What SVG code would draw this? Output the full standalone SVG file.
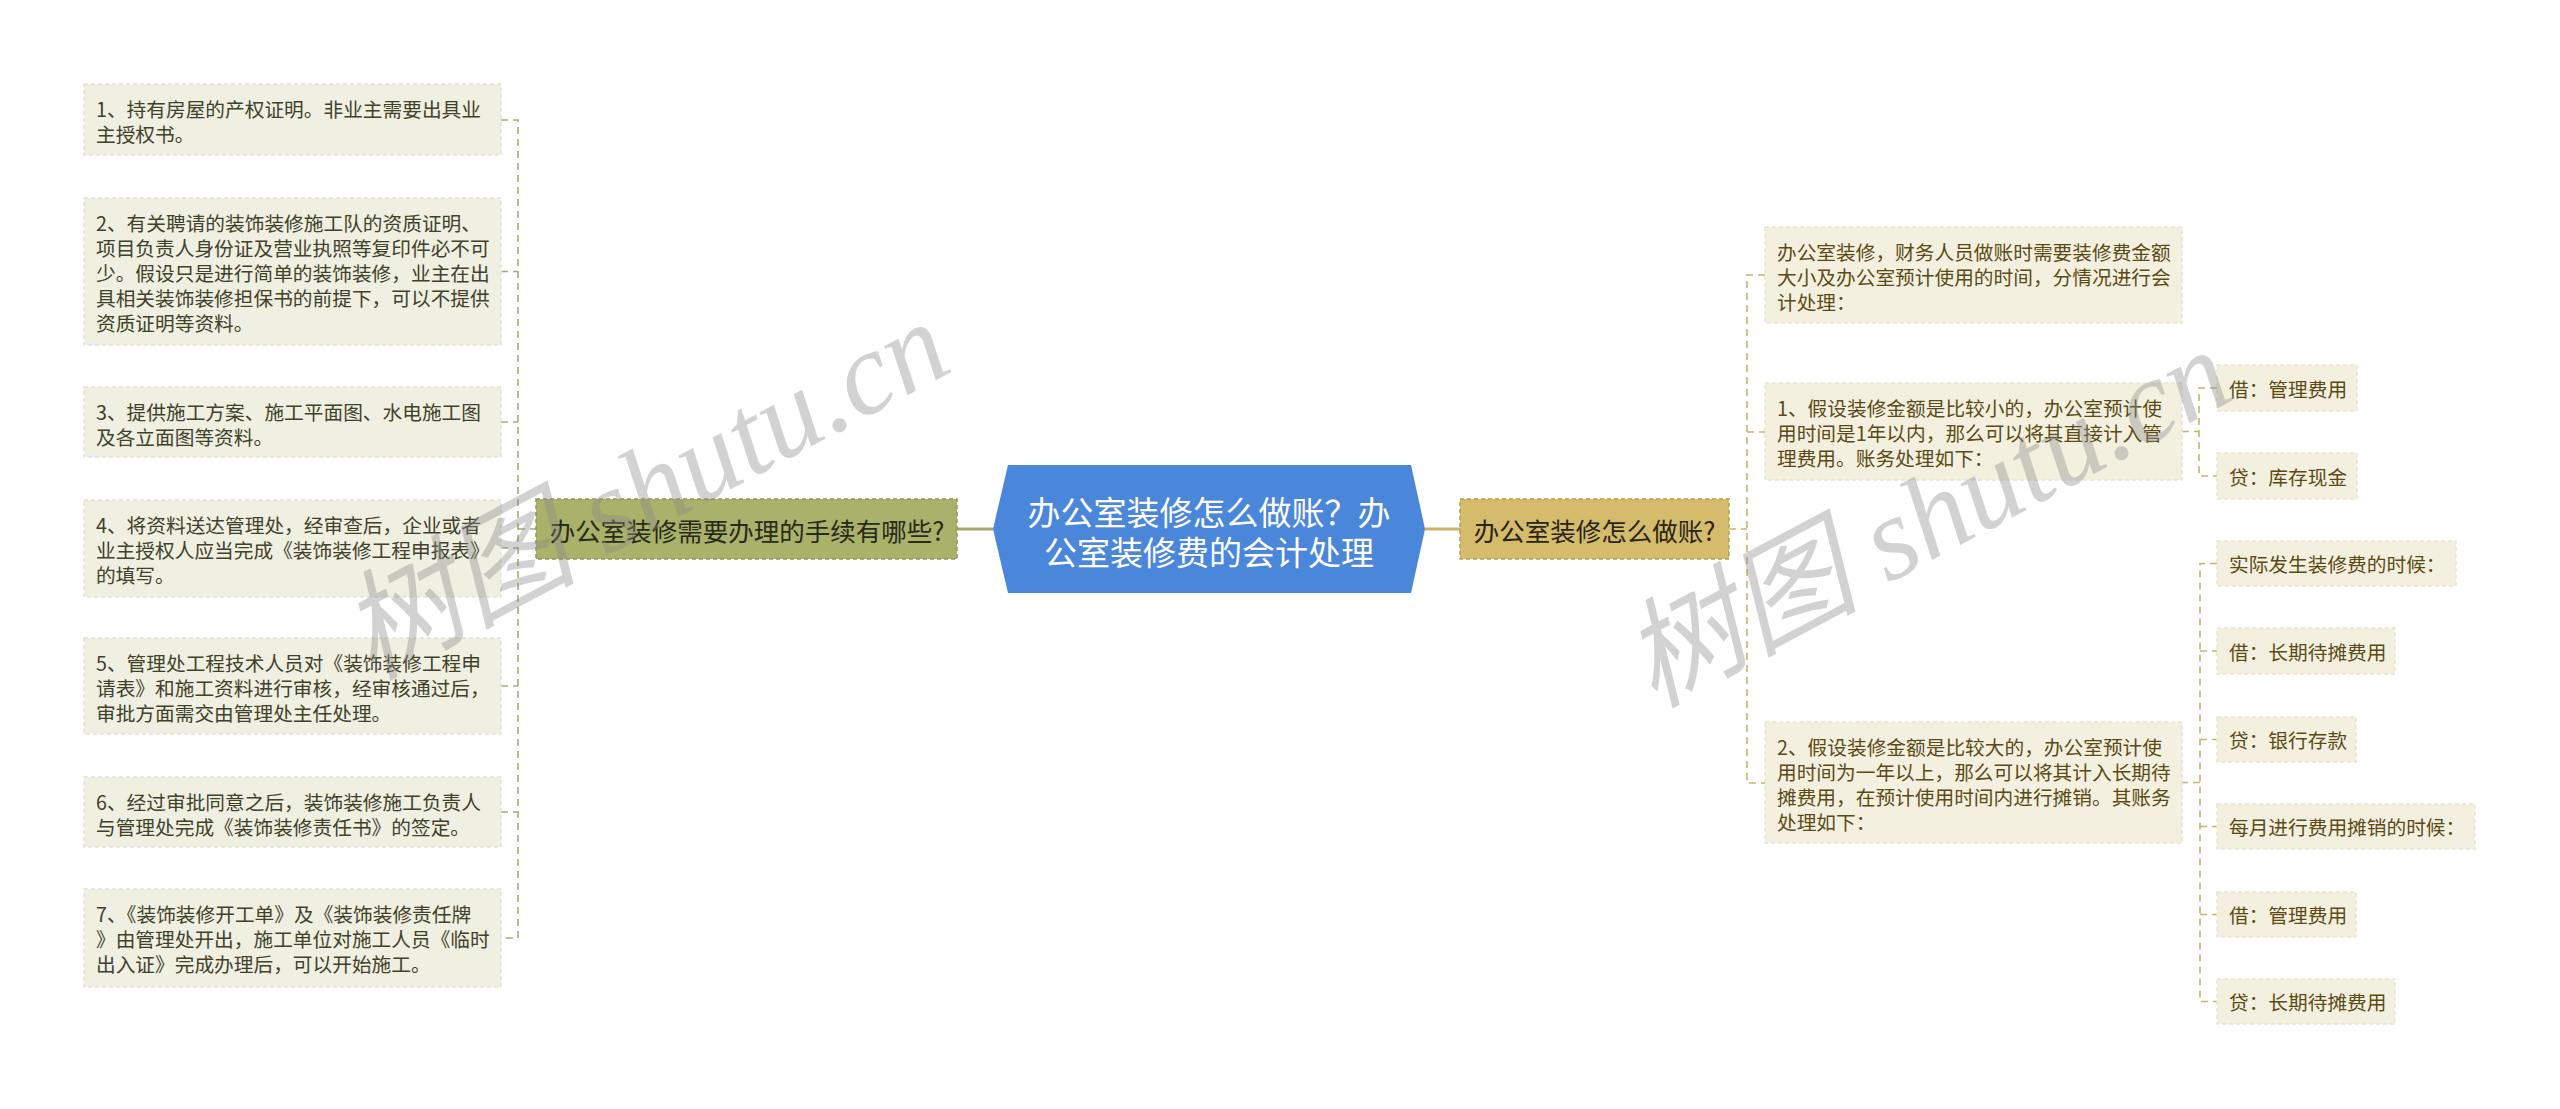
<svg xmlns="http://www.w3.org/2000/svg" width="2560" height="1109" viewBox="0 0 2560 1109">
<style>
text{font-family:"Noto Sans CJK SC","Noto Sans",sans-serif;dominant-baseline:central}
.lb{fill:#efefe2;stroke:#e4e4d2;stroke-width:1.5;stroke-dasharray:4 3}
.rb{fill:#f4f0e0;stroke:#ebe5cc;stroke-width:1.5;stroke-dasharray:4 3}
.lt{fill:#414129;font-size:19.7px}
.rt{fill:#5a4b16;font-size:19.7px}
.ld{fill:none;stroke:#a6ab74;stroke-width:1.6;stroke-dasharray:7 5}
.rd{fill:none;stroke:#c9b46c;stroke-width:1.6;stroke-dasharray:7 5}
.wm{font-family:"Liberation Serif","Noto Sans CJK SC",serif;font-style:italic;font-size:118px;fill:#8a8a8a;fill-opacity:0.38}
</style>
<rect width="2560" height="1109" fill="#ffffff"/>
<g id="connectors">
<line x1="957" y1="529" x2="993" y2="529" stroke="#a3a866" stroke-width="3"/>
<line x1="1425" y1="529" x2="1460" y2="529" stroke="#c9b36a" stroke-width="3"/>
<path class="ld" d="M501 120H518V938H501M501 271.5H518M501 422H518M501 548H518M501 686H518M501 812H518M518 529H536"/>
<path class="rd" d="M1765 275H1747V783H1765M1747 432H1765M1729 529H1747"/>
<path class="rd" d="M2217 388H2199V476H2217M2182 431.5H2199"/>
<path class="rd" d="M2217 563.5H2200V1001.5H2217M2200 651H2217M2200 739.5H2217M2200 826.5H2217M2200 914.5H2217M2181 782.5H2200"/>
</g>
<g id="center">
<polygon points="993,529 1008,465 1411,465 1425,529 1411,593 1008,593" fill="#4a86d9"/>
<text x="1209" y="511" font-size="33" fill="#ffffff" text-anchor="middle">办公室装修怎么做账？办</text>
<text x="1209" y="551" font-size="33" fill="#ffffff" text-anchor="middle">公室装修费的会计处理</text>
</g>
<g id="left-branch">
<rect x="536" y="499" width="421" height="60" fill="#a9b16b" stroke="#8e9655" stroke-width="1.5" stroke-dasharray="4 3"/>
<text x="747" y="529" font-size="25.5" fill="#2a2a18" text-anchor="middle">办公室装修需要办理的手续有哪些?</text>
</g>
<g id="right-branch">
<rect x="1460" y="499" width="269" height="60" fill="#d5bc6c" stroke="#b89f50" stroke-width="1.5" stroke-dasharray="4 3"/>
<text x="1594.5" y="529" font-size="25.5" fill="#2a2412" text-anchor="middle">办公室装修怎么做账?</text>
</g>
<g id="l1"><rect class="lb" x="84" y="84" width="417" height="71"/>
<text class="lt" x="96" y="108">1、持有房屋的产权证明。非业主需要出具业</text>
<text class="lt" x="96" y="133">主授权书。</text></g>
<g id="l2"><rect class="lb" x="84" y="198" width="417" height="147"/>
<text class="lt" x="96" y="222">2、有关聘请的装饰装修施工队的资质证明、</text>
<text class="lt" x="96" y="247">项目负责人身份证及营业执照等复印件必不可</text>
<text class="lt" x="96" y="272">少。假设只是进行简单的装饰装修，业主在出</text>
<text class="lt" x="96" y="297">具相关装饰装修担保书的前提下，可以不提供</text>
<text class="lt" x="96" y="322">资质证明等资料。</text></g>
<g id="l3"><rect class="lb" x="84" y="387" width="417" height="70"/>
<text class="lt" x="96" y="411">3、提供施工方案、施工平面图、水电施工图</text>
<text class="lt" x="96" y="436">及各立面图等资料。</text></g>
<g id="l4"><rect class="lb" x="84" y="500" width="417" height="97"/>
<text class="lt" x="96" y="524">4、将资料送达管理处，经审查后，企业或者</text>
<text class="lt" x="96" y="549">业主授权人应当完成《装饰装修工程申报表》</text>
<text class="lt" x="96" y="574">的填写。</text></g>
<g id="l5"><rect class="lb" x="84" y="638" width="417" height="96"/>
<text class="lt" x="96" y="662">5、管理处工程技术人员对《装饰装修工程申</text>
<text class="lt" x="96" y="687">请表》和施工资料进行审核，经审核通过后，</text>
<text class="lt" x="96" y="712">审批方面需交由管理处主任处理。</text></g>
<g id="l6"><rect class="lb" x="84" y="777" width="417" height="70"/>
<text class="lt" x="96" y="801">6、经过审批同意之后，装饰装修施工负责人</text>
<text class="lt" x="96" y="826">与管理处完成《装饰装修责任书》的签定。</text></g>
<g id="l7"><rect class="lb" x="84" y="889" width="417" height="98"/>
<text class="lt" x="96" y="913">7、《装饰装修开工单》及《装饰装修责任牌</text>
<text class="lt" x="96" y="938">》由管理处开出，施工单位对施工人员《临时</text>
<text class="lt" x="96" y="963">出入证》完成办理后，可以开始施工。</text></g>
<g id="ra"><rect class="rb" x="1765" y="227" width="417" height="96"/>
<text class="rt" x="1777" y="251">办公室装修，财务人员做账时需要装修费金额</text>
<text class="rt" x="1777" y="276">大小及办公室预计使用的时间，分情况进行会</text>
<text class="rt" x="1777" y="301">计处理：</text></g>
<g id="rb1"><rect class="rb" x="1765" y="383" width="417" height="97"/>
<text class="rt" x="1777" y="407">1、假设装修金额是比较小的，办公室预计使</text>
<text class="rt" x="1777" y="432">用时间是1年以内，那么可以将其直接计入管</text>
<text class="rt" x="1777" y="457">理费用。账务处理如下：</text></g>
<g id="rc"><rect class="rb" x="1765" y="722" width="417" height="121"/>
<text class="rt" x="1777" y="746">2、假设装修金额是比较大的，办公室预计使</text>
<text class="rt" x="1777" y="771">用时间为一年以上，那么可以将其计入长期待</text>
<text class="rt" x="1777" y="796">摊费用，在预计使用时间内进行摊销。其账务</text>
<text class="rt" x="1777" y="821">处理如下：</text></g>
<g id="b1"><rect class="rb" x="2217" y="365" width="140" height="46"/>
<text class="rt" x="2229" y="388">借：管理费用</text></g>
<g id="b2"><rect class="rb" x="2217" y="453" width="140" height="46"/>
<text class="rt" x="2229" y="476">贷：库存现金</text></g>
<g id="c1"><rect class="rb" x="2217" y="541" width="239" height="45"/>
<text class="rt" x="2229" y="563.5">实际发生装修费的时候：</text></g>
<g id="c2"><rect class="rb" x="2217" y="628" width="178" height="46"/>
<text class="rt" x="2229" y="651">借：长期待摊费用</text></g>
<g id="c3"><rect class="rb" x="2217" y="717" width="139" height="45"/>
<text class="rt" x="2229" y="739.5">贷：银行存款</text></g>
<g id="c4"><rect class="rb" x="2217" y="804" width="258" height="45"/>
<text class="rt" x="2229" y="826.5">每月进行费用摊销的时候：</text></g>
<g id="c5"><rect class="rb" x="2217" y="892" width="139" height="45"/>
<text class="rt" x="2229" y="914.5">借：管理费用</text></g>
<g id="c6"><rect class="rb" x="2217" y="979" width="178" height="45"/>
<text class="rt" x="2229" y="1001.5">贷：长期待摊费用</text></g>
<g id="watermarks">
<text class="wm" x="645" y="490" text-anchor="middle" transform="rotate(-28 645 490)">树图 shutu.cn</text>
<text class="wm" x="1927" y="518" text-anchor="middle" transform="rotate(-28 1927 518)">树图 shutu.cn</text>
</g>
</svg>
